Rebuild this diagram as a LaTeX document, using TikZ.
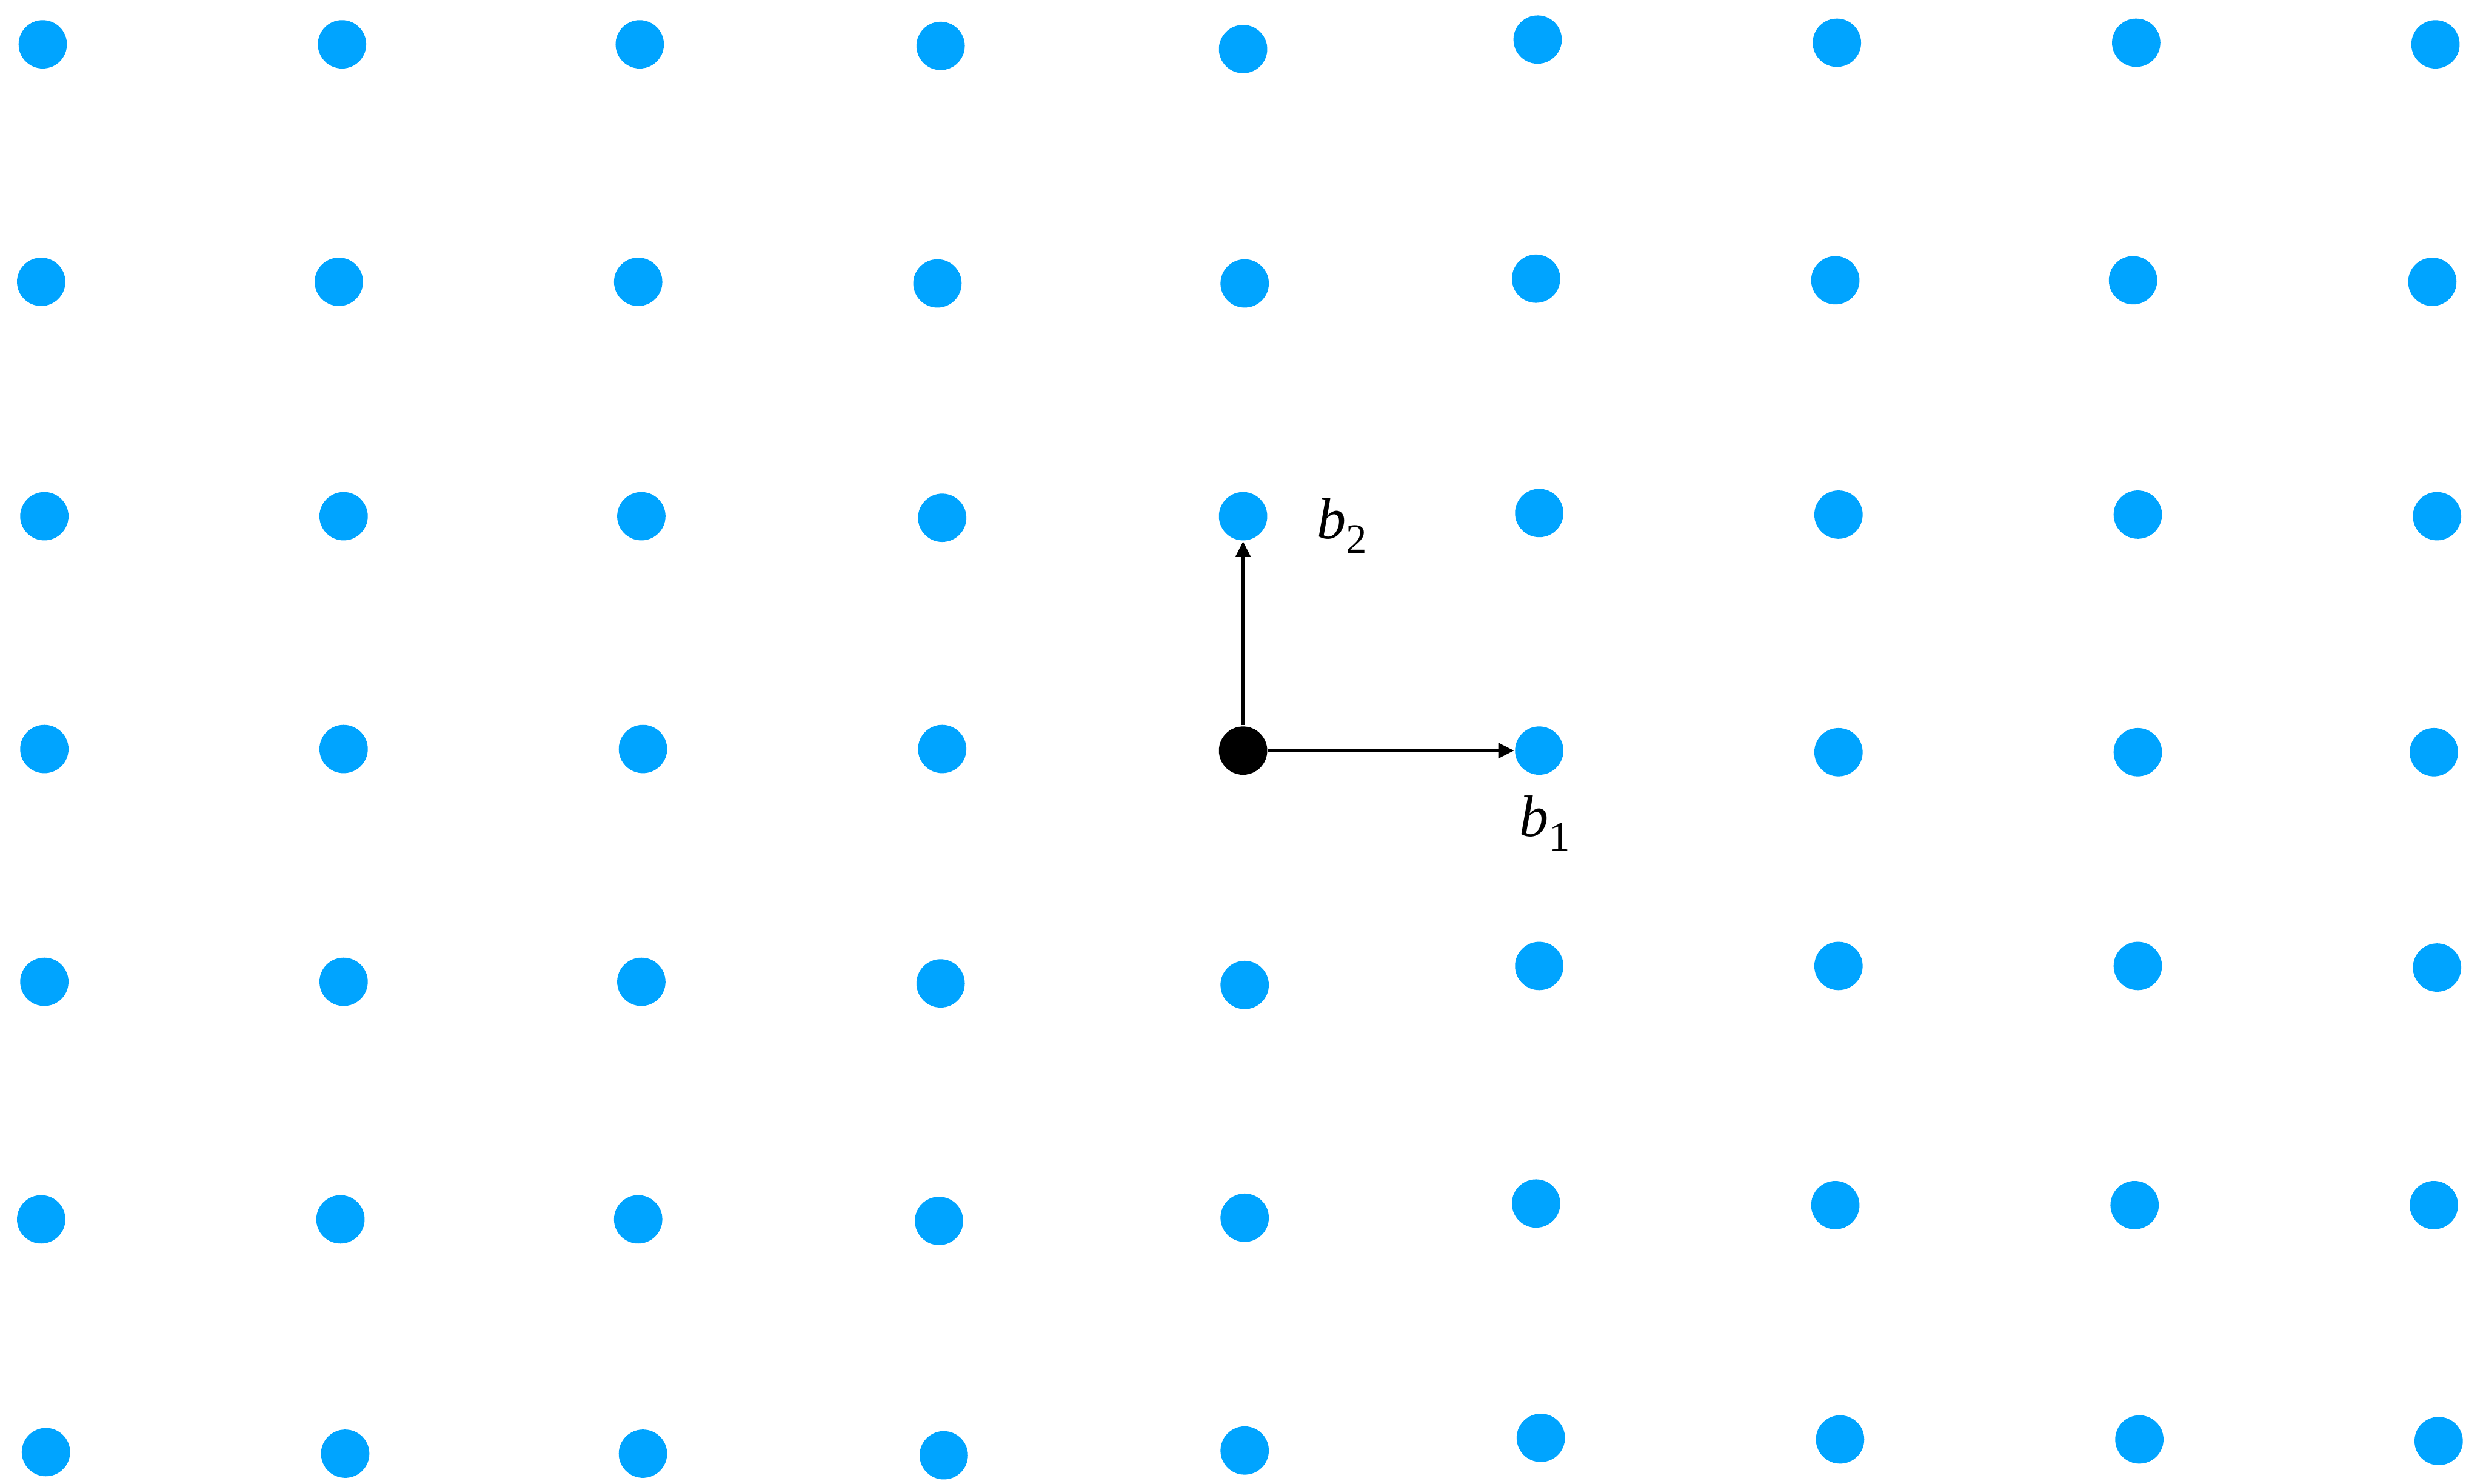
\documentclass[tikz,border=0pt]{standalone}
\usepackage{fontspec}
\setmainfont{Liberation Serif}
\usetikzlibrary{arrows.meta}
\definecolor{latblue}{RGB}{0,164,255}
\begin{document}
\begin{tikzpicture}[x=0.01cm,y=-0.01cm,
  dot/.style={circle,fill=latblue,inner sep=0pt,minimum size=0.305cm},
  origin/.style={circle,fill=black,inner sep=0pt,minimum size=0.305cm},
  vec/.style={line width=0.48pt,-{Triangle[length=2.8pt,width=2.7pt]}},
  lbl/.style={inner sep=0pt,anchor=base west,font=\fontsize{10.5}{12}\selectfont}]
\useasboundingbox (0,0) rectangle (1568,937);
% row 1
\foreach \x/\y [count=\c] in {27/28,216/28,404/28,594/29,785/31,971/25,1160/27,1349/27,1538/28}
  \node[dot] (d1-\c) at (\x,\y) {};
% row 2
\foreach \x/\y [count=\c] in {26/178,214/178,403/178,592/179,786/179,970/176,1159/177,1347/177,1536/178}
  \node[dot] (d2-\c) at (\x,\y) {};
% row 3
\foreach \x/\y [count=\c] in {28/326,217/326,405/326,595/327,785/326,972/324,1161/325,1350/325,1539/326}
  \node[dot] (d3-\c) at (\x,\y) {};
% row 4 (column 5 is the origin)
\foreach \x/\y/\c in {28/473/1,217/473/2,406/473/3,595/473/4,972/474/6,1161/475/7,1350/475/8,1537/475/9}
  \node[dot] (d4-\c) at (\x,\y) {};
\node[origin] (o) at (785,474) {};
% row 5
\foreach \x/\y [count=\c] in {28/620,217/620,405/620,594/621,786/622,972/610,1161/610,1350/610,1539/611}
  \node[dot] (d5-\c) at (\x,\y) {};
% row 6
\foreach \x/\y [count=\c] in {26/770,215/770,403/770,593/771,786/769,970/760,1159/761,1348/761,1537/761}
  \node[dot] (d6-\c) at (\x,\y) {};
% row 7
\foreach \x/\y [count=\c] in {29/917,218/918,406/918,596/919,786/916,973/908,1162/909,1351/909,1540/910}
  \node[dot] (d7-\c) at (\x,\y) {};
% basis vectors
\draw[vec] (o) -- (d3-5);
\draw[vec] (o) -- (d4-6);
\node[lbl] (lb2) at (831,340) {\itshape b\raisebox{-2.6pt}{\fontsize{7.5}{8}\selectfont\upshape 2}};
\node[lbl] (lb1) at (959,528) {\itshape b\raisebox{-2.6pt}{\fontsize{7.5}{8}\selectfont\upshape 1}};
\end{tikzpicture}
\end{document}
